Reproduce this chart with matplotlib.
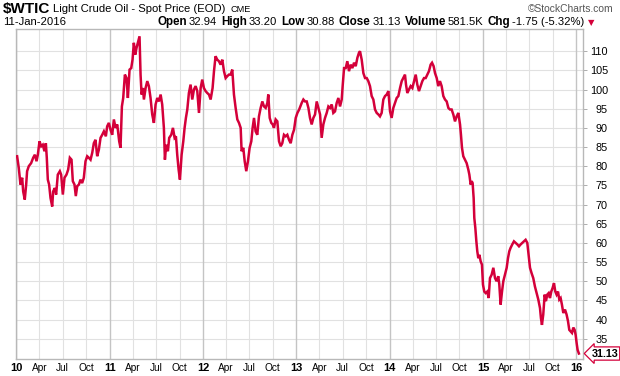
import matplotlib
matplotlib.use("Agg")
import matplotlib.pyplot as plt
import numpy as np

# ---- data (decimal year, price) ----
t_2010_2012 = [
    2010.007, 2010.025, 2010.043, 2010.061, 2010.072, 2010.089, 2010.104, 2010.114, 2010.132, 2010.157,
    2010.179, 2010.197, 2010.215, 2010.229, 2010.247, 2010.265, 2010.282, 2010.300, 2010.315, 2010.325,
    2010.336, 2010.350, 2010.365, 2010.383, 2010.393, 2010.411, 2010.425, 2010.443, 2010.465, 2010.479,
    2010.497, 2010.515, 2010.536, 2010.554, 2010.572, 2010.590, 2010.604, 2010.622, 2010.636, 2010.651,
    2010.669, 2010.686, 2010.704, 2010.722, 2010.740, 2010.758, 2010.776, 2010.794, 2010.812, 2010.829,
    2010.847, 2010.865, 2010.883, 2010.901, 2010.919, 2010.937, 2010.958, 2010.972, 2010.990,
    2011.008, 2011.026, 2011.044, 2011.062, 2011.080, 2011.101, 2011.115, 2011.130, 2011.144, 2011.162,
    2011.180, 2011.194, 2011.212, 2011.230, 2011.244, 2011.258, 2011.273, 2011.287, 2011.301, 2011.319,
    2011.330, 2011.341, 2011.355, 2011.366, 2011.384, 2011.402, 2011.419, 2011.437, 2011.455, 2011.473,
    2011.491, 2011.509, 2011.527, 2011.545, 2011.562, 2011.580, 2011.591, 2011.605, 2011.623, 2011.637,
    2011.659, 2011.677, 2011.695, 2011.709, 2011.723, 2011.738, 2011.752, 2011.770, 2011.788, 2011.802,
    2011.816, 2011.831, 2011.848, 2011.866, 2011.884, 2011.902, 2011.920, 2011.938, 2011.956, 2011.974,
    2011.991,
    2012.009, 2012.027, 2012.045, 2012.063, 2012.081, 2012.102, 2012.117, 2012.134, 2012.152, 2012.170,
    2012.188, 2012.206, 2012.224, 2012.242, 2012.260, 2012.277, 2012.295, 2012.313, 2012.331, 2012.349,
    2012.367, 2012.385, 2012.403, 2012.413, 2012.431, 2012.446, 2012.463, 2012.481, 2012.499, 2012.517,
    2012.531, 2012.546, 2012.563, 2012.581, 2012.599, 2012.617, 2012.635, 2012.653, 2012.671, 2012.689,
    2012.699, 2012.714, 2012.731, 2012.746, 2012.760, 2012.778, 2012.796, 2012.814, 2012.832, 2012.849,
    2012.867, 2012.885, 2012.903, 2012.921, 2012.939, 2012.957, 2012.975, 2012.993,
    2013.011, 2013.030,
]
p_2010_2012 = [
    82.6, 79.5, 75.2, 77.0, 73.4, 71.3, 75.2, 78.7, 80.0, 80.8,
    82.2, 83.0, 81.3, 83.0, 86.5, 85.2, 85.6, 83.9, 86.0, 82.2,
    76.5, 75.2, 71.7, 69.5, 73.4, 74.3, 72.6, 77.8, 78.7, 77.8,
    72.6, 77.0, 77.8, 79.1, 82.2, 81.7, 76.1, 75.2, 72.2, 74.8,
    75.2, 76.5, 75.6, 77.0, 81.3, 82.6, 82.2, 81.7, 83.5, 86.0,
    86.9, 82.6, 84.3, 87.4, 88.2, 89.1, 87.8, 90.4, 91.3,
    89.5, 88.2, 92.2, 90.0, 90.9, 86.5, 84.8, 95.6, 97.8, 103.9,
    103.0, 97.8, 105.2, 105.6, 107.8, 112.2, 109.1, 110.9, 112.2, 113.9,
    103.9, 98.7, 100.4, 97.4, 100.4, 102.2, 100.9, 97.8, 93.5, 91.3,
    96.1, 97.8, 96.9, 98.7, 96.1, 90.0, 81.7, 85.6, 83.9, 87.4,
    88.2, 90.0, 87.4, 87.8, 83.0, 79.1, 76.5, 83.0, 86.5, 90.0,
    92.6, 94.8, 99.1, 101.3, 97.4, 100.0, 100.9, 99.6, 93.9, 100.4,
    102.6,
    100.4, 99.6, 99.1, 98.7, 97.4, 100.4, 104.8, 108.7, 107.8, 107.4,
    106.5, 107.8, 104.8, 103.0, 103.5, 103.9, 103.9, 105.2, 98.7, 95.2,
    92.2, 91.3, 90.0, 83.9, 84.8, 81.3, 78.7, 81.3, 84.8, 86.5,
    90.0, 92.6, 89.1, 88.2, 93.0, 95.2, 96.9, 95.6, 95.2, 96.5,
    98.7, 92.6, 91.3, 90.9, 90.0, 92.2, 91.7, 86.5, 85.2, 86.0,
    88.2, 87.8, 88.2, 86.9, 86.0, 88.2, 89.5, 92.6,
    93.9, 94.8,
]
t_2013_2016 = [
    2013.057, 2013.075, 2013.093, 2013.111, 2013.129, 2013.146, 2013.164, 2013.182, 2013.200, 2013.218,
    2013.236, 2013.254, 2013.271, 2013.289, 2013.307, 2013.325, 2013.343, 2013.361, 2013.379, 2013.396,
    2013.414, 2013.432, 2013.450, 2013.468, 2013.486, 2013.496, 2013.511, 2013.529, 2013.546, 2013.564,
    2013.582, 2013.600, 2013.618, 2013.636, 2013.654, 2013.671, 2013.682, 2013.700, 2013.718, 2013.736,
    2013.754, 2013.771, 2013.789, 2013.807, 2013.825, 2013.843, 2013.861, 2013.879, 2013.896, 2013.914,
    2013.932, 2013.950, 2013.968, 2013.986,
    2014.004, 2014.021, 2014.039, 2014.057, 2014.075, 2014.093, 2014.111, 2014.129, 2014.146, 2014.164,
    2014.175, 2014.189, 2014.207, 2014.225, 2014.243, 2014.261, 2014.279, 2014.296, 2014.314, 2014.332,
    2014.350, 2014.368, 2014.386, 2014.404, 2014.421, 2014.439, 2014.454, 2014.471, 2014.486, 2014.504,
    2014.521, 2014.539, 2014.557, 2014.575, 2014.593, 2014.611, 2014.629, 2014.646, 2014.664, 2014.682,
    2014.700, 2014.718, 2014.736, 2014.754, 2014.764, 2014.775, 2014.789, 2014.807, 2014.825, 2014.843,
    2014.854, 2014.868, 2014.879, 2014.889, 2014.900, 2014.907, 2014.918, 2014.929, 2014.939, 2014.950,
    2014.961, 2014.975, 2014.989,
    2015.000, 2015.014, 2015.029, 2015.046, 2015.061, 2015.075, 2015.093, 2015.111, 2015.129, 2015.146,
    2015.164, 2015.175, 2015.189, 2015.204, 2015.218, 2015.236, 2015.254, 2015.268, 2015.282, 2015.296,
    2015.314, 2015.332, 2015.350, 2015.368, 2015.386, 2015.404, 2015.421, 2015.439, 2015.457, 2015.475,
    2015.489, 2015.504, 2015.521, 2015.539, 2015.557, 2015.575, 2015.593, 2015.611, 2015.621, 2015.632,
    2015.646, 2015.661, 2015.675, 2015.689, 2015.704, 2015.718, 2015.732, 2015.746, 2015.761, 2015.775,
    2015.789, 2015.804, 2015.818, 2015.832, 2015.846, 2015.861, 2015.879, 2015.896, 2015.911, 2015.925,
    2015.939, 2015.954, 2015.968, 2015.982, 2015.993,
    2016.004, 2016.014, 2016.028,
]
p_2013_2016 = [
    96.5, 97.4, 96.9, 96.9, 95.2, 92.6, 90.9, 92.6, 93.5, 96.9,
    95.2, 93.5, 87.4, 90.9, 92.6, 93.9, 95.6, 95.2, 96.1, 93.9,
    94.3, 96.5, 97.8, 95.6, 97.4, 100.9, 105.6, 105.6, 107.4, 104.8,
    106.5, 105.6, 107.0, 106.1, 108.3, 109.6, 110.0, 107.8, 104.3, 103.0,
    103.0, 102.2, 100.9, 98.3, 97.4, 94.8, 93.9, 93.5, 93.0, 93.9,
    97.4, 98.3, 98.7, 99.6,
    94.3, 92.6, 95.2, 96.5, 97.8, 98.3, 100.4, 102.2, 103.0, 103.9,
    101.3, 99.1, 100.0, 100.9, 100.4, 102.2, 103.9, 101.3, 99.6, 100.9,
    102.2, 103.0, 103.0, 103.9, 104.8, 106.5, 107.0, 106.1, 104.3, 103.0,
    100.9, 102.2, 100.9, 98.3, 97.4, 96.9, 95.2, 94.8, 94.8, 93.5,
    91.7, 93.0, 93.9, 90.9, 88.2, 84.8, 82.6, 81.7, 80.8, 79.1,
    77.8, 75.2, 76.1, 75.6, 71.7, 66.5, 63.9, 60.4, 57.8, 56.0,
    56.9, 55.2, 54.3,
    49.1, 47.3, 46.9, 47.3, 45.6, 50.8, 51.7, 53.5, 50.8, 50.0,
    51.3, 49.1, 43.9, 47.3, 50.0, 51.7, 53.5, 56.0, 57.8, 58.7,
    59.6, 60.4, 60.0, 59.6, 59.1, 59.6, 60.0, 60.4, 60.8, 60.0,
    56.9, 53.5, 52.1, 50.8, 48.6, 46.9, 45.2, 43.0, 40.4, 38.6,
    41.3, 46.5, 44.8, 46.5, 46.9, 45.6, 47.3, 48.2, 49.5, 47.3,
    46.5, 47.3, 45.2, 45.6, 43.9, 41.7, 42.6, 41.3, 39.6, 37.3,
    36.9, 36.5, 37.9, 37.3, 36.0,
    33.8, 32.1, 31.13,
]
dates = np.array(t_2010_2012 + t_2013_2016)
prices = np.array(p_2010_2012 + p_2013_2016)

years = [2010, 2011, 2012, 2013, 2014, 2015, 2016]
year_labels = ["10", "11", "12", "13", "14", "15", "16"]
quarter_offsets = [0.246, 0.496, 0.748]
quarter_labels = ["Apr", "Jul", "Oct"]
y_ticks = list(range(35, 111, 5))

symbol = "$WTIC"
title = "Light Crude Oil - Spot Price (EOD)"
exchange = "CME"
date_str = "11-Jan-2016"
stats = [("Open", "32.94"), ("High", "33.20"), ("Low", "30.88"),
         ("Close", "31.13"), ("Volume", "581.5K"), ("Chg", "-1.75 (-5.32%)")]
last_value = 31.13

RED = "#d4003a"
FONT = "Liberation Sans"
plt.rcParams["font.family"] = [FONT, "DejaVu Sans"]

W, H = 620, 376
fig = plt.figure(figsize=(W / 100, H / 100), dpi=100)
fig.patch.set_facecolor("white")
ax = fig.add_axes([16 / W, 17 / H, 567 / W, 330 / H])

# grid
for yv in y_ticks:
    ax.axhline(yv, color="#e1e1e1", lw=0.8, zorder=0)
xt, xl, xw = [], [], []
for y, lab in zip(years, year_labels):
    xt.append(y); xl.append(lab); xw.append("bold")
    ax.axvline(y, color="#c4c4c4", lw=1.0, zorder=0)
    if y < 2016:
        for q, ql in zip(quarter_offsets, quarter_labels):
            xt.append(y + q); xl.append(ql); xw.append("normal")
            ax.axvline(y + q, color="#e1e1e1", lw=0.8, zorder=0)

ax.plot(dates, prices, color=RED, lw=1.8, solid_joinstyle="miter", zorder=3)

ax.set_xlim(2009.995, 2016.072)
ax.set_ylim(29.7, 115.8)

ax.set_xticks(xt)
ax.set_xticklabels(xl)
for lbl, w in zip(ax.get_xticklabels(), xw):
    lbl.set_fontweight(w)
    lbl.set_fontsize(8 if w == "bold" else 7.3)
ax.tick_params(axis="x", length=0, pad=3, colors="black")

ax.yaxis.tick_right()
ax.set_yticks(y_ticks)
ax.set_yticklabels([str(v) for v in y_ticks])
ax.tick_params(axis="y", length=3, width=0.6, color="#a0a0a0", pad=15, labelsize=7.8)
for lbl in ax.get_yticklabels():
    lbl.set_horizontalalignment("right")

for s in ["left", "bottom", "top", "right"]:
    ax.spines[s].set_color("#b8b8b8")
    ax.spines[s].set_linewidth(1.0)

# last value tag
ax.annotate(f"{last_value:.2f}", xy=(1.0, last_value), xycoords=("axes fraction", "data"),
            xytext=(6, 0), textcoords="offset points", ha="left", va="center",
            fontsize=7.8, fontweight="bold", color="black",
            bbox=dict(boxstyle="larrow,pad=0.15", fc="white", ec=RED, lw=0.9), zorder=5)

# header
fig.canvas.draw()
renderer = fig.canvas.get_renderer()

def place(x, y_top, s, **kw):
    t = fig.text(x / W, 1 - y_top / H, s, va="baseline", ha="left", **kw)
    ext = t.get_window_extent(renderer)
    return t, ext.x1

_, x = place(3, 12.5, symbol, fontsize=11, fontweight="bold")
_, x = place(x + 3, 12.5, title, fontsize=8.1)
_, x = place(x + 5, 12.5, exchange, fontsize=6.6)
fig.text(613 / W, 1 - 12 / H, "\u00a9StockCharts.com", ha="right", va="baseline",
         fontsize=7.4, color="#555555")

place(3, 25, date_str, fontsize=8.1)
x = 157
for i, (k, v) in enumerate(stats):
    _, x = place(x, 25, k, fontsize=8.4, fontweight="bold")
    _, x = place(x + 2, 25, v, fontsize=8.1)
    x += 4
place(x - 1, 25, "\u25bc", fontsize=6, color=RED, family="DejaVu Sans")

fig.savefig("out.png", dpi=100)
